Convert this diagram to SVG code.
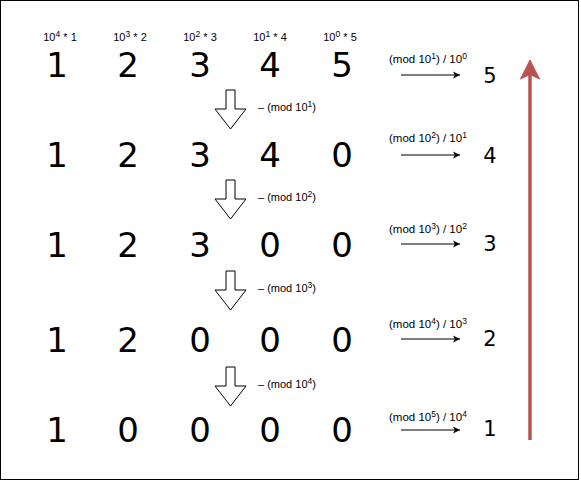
<svg xmlns="http://www.w3.org/2000/svg" width="581" height="481" viewBox="0 0 581 481">
<style>
.big{font-family:"DejaVu Sans",sans-serif;font-size:34px;fill:#000;text-anchor:middle}
.res{font-family:"DejaVu Sans",sans-serif;font-size:21px;fill:#000;text-anchor:middle}
.sm{font-family:"Liberation Sans",Arial,sans-serif;font-size:11px;fill:#000}
.rl{font-size:11.5px}
.c{text-anchor:middle}
.sup{font-size:8.5px}
.blk{fill:#fff;stroke:#000;stroke-width:1}
.ln{stroke:#000;stroke-width:1;fill:none}
</style>
<defs>
<marker id="ah" markerWidth="8" markerHeight="8" refX="7" refY="4" orient="auto" markerUnits="userSpaceOnUse">
<path d="M0,0.5 L7,4 L0,7.5 L1.8,4 Z" fill="#000"/>
</marker>
</defs>
<rect x="0.5" y="0.5" width="578" height="479" fill="#fff" stroke="#000" stroke-width="1"/>
<g id="labels-top" class="sm">
<text class="sm c" x="60" y="41">10<tspan class="sup" dy="-4">4</tspan><tspan dy="4"> * 1</tspan></text>
<text class="sm c" x="130" y="41">10<tspan class="sup" dy="-4">3</tspan><tspan dy="4"> * 2</tspan></text>
<text class="sm c" x="200" y="41">10<tspan class="sup" dy="-4">2</tspan><tspan dy="4"> * 3</tspan></text>
<text class="sm c" x="270" y="41">10<tspan class="sup" dy="-4">1</tspan><tspan dy="4"> * 4</tspan></text>
<text class="sm c" x="340" y="41">10<tspan class="sup" dy="-4">0</tspan><tspan dy="4"> * 5</tspan></text>
</g>
<g id="row1" class="big">
<text class="big" x="57" y="77">1</text><text class="big" x="128" y="77">2</text><text class="big" x="200" y="77">3</text><text class="big" x="270" y="77">4</text><text class="big" x="342" y="77">5</text>
</g>
<g id="row2">
<text class="big" x="57" y="167">1</text><text class="big" x="128" y="167">2</text><text class="big" x="200" y="167">3</text><text class="big" x="270" y="167">4</text><text class="big" x="342" y="167">0</text>
</g>
<g id="row3">
<text class="big" x="57" y="257">1</text><text class="big" x="128" y="257">2</text><text class="big" x="200" y="257">3</text><text class="big" x="270" y="257">0</text><text class="big" x="342" y="257">0</text>
</g>
<g id="row4">
<text class="big" x="57" y="352">1</text><text class="big" x="128" y="352">2</text><text class="big" x="200" y="352">0</text><text class="big" x="270" y="352">0</text><text class="big" x="342" y="352">0</text>
</g>
<g id="row5">
<text class="big" x="57" y="442">1</text><text class="big" x="128" y="442">0</text><text class="big" x="200" y="442">0</text><text class="big" x="270" y="442">0</text><text class="big" x="342" y="442">0</text>
</g>
<g id="step1">
<path class="blk" d="M226,90 H235 V109 H246 L230.5,129 L215,109 H226 Z"/>
<text class="sm" x="258" y="111">–  (mod 10<tspan class="sup" dy="-4">1</tspan><tspan dy="4">)</tspan></text>
</g>
<g id="step2">
<path class="blk" d="M226,180 H235 V199 H246 L230.5,219 L215,199 H226 Z"/>
<text class="sm" x="258" y="201">–  (mod 10<tspan class="sup" dy="-4">2</tspan><tspan dy="4">)</tspan></text>
</g>
<g id="step3">
<path class="blk" d="M226,271 H235 V290 H246 L230.5,310 L215,290 H226 Z"/>
<text class="sm" x="258" y="292">–  (mod 10<tspan class="sup" dy="-4">3</tspan><tspan dy="4">)</tspan></text>
</g>
<g id="step4">
<path class="blk" d="M226,367 H235 V386 H246 L230.5,406 L215,386 H226 Z"/>
<text class="sm" x="258" y="388">–  (mod 10<tspan class="sup" dy="-4">4</tspan><tspan dy="4">)</tspan></text>
</g>
<g id="extract">
<text class="sm rl" x="389" y="63">(mod 10<tspan class="sup" dy="-4">1</tspan><tspan dy="4">) / 10</tspan><tspan class="sup" dy="-4">0</tspan></text>
<text class="res" x="490" y="83">5</text>
<text class="sm rl" x="389" y="142">(mod 10<tspan class="sup" dy="-4">2</tspan><tspan dy="4">) / 10</tspan><tspan class="sup" dy="-4">1</tspan></text>
<text class="res" x="490" y="163">4</text>
<text class="sm rl" x="389" y="233">(mod 10<tspan class="sup" dy="-4">3</tspan><tspan dy="4">) / 10</tspan><tspan class="sup" dy="-4">2</tspan></text>
<text class="res" x="490" y="251">3</text>
<text class="sm rl" x="389" y="328">(mod 10<tspan class="sup" dy="-4">4</tspan><tspan dy="4">) / 10</tspan><tspan class="sup" dy="-4">3</tspan></text>
<text class="res" x="490" y="346">2</text>
<text class="sm rl" x="389" y="421">(mod 10<tspan class="sup" dy="-4">5</tspan><tspan dy="4">) / 10</tspan><tspan class="sup" dy="-4">4</tspan></text>
<text class="res" x="490" y="436">1</text>
</g>
<g id="connectors">
<line class="ln" x1="401" y1="75" x2="460" y2="75" marker-end="url(#ah)"/>
<line class="ln" x1="401" y1="155" x2="460" y2="155" marker-end="url(#ah)"/>
<line class="ln" x1="401" y1="244" x2="460" y2="244" marker-end="url(#ah)"/>
<line class="ln" x1="401" y1="339" x2="460" y2="339" marker-end="url(#ah)"/>
<line class="ln" x1="401" y1="430" x2="460" y2="430" marker-end="url(#ah)"/>
<line x1="530" y1="440" x2="530" y2="74" stroke="#b85450" stroke-width="3.5"/>
<path d="M530,60 L539.5,79 L530,74.5 L520.5,79 Z" fill="#b85450" stroke="#b85450" stroke-width="1"/>
</g>
</svg>
